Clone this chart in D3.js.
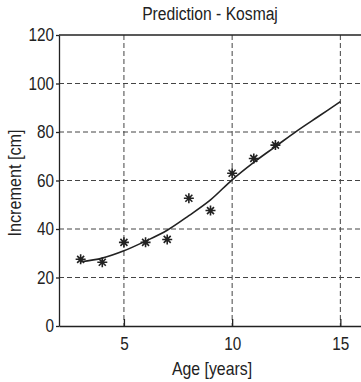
<!DOCTYPE html>
<html>
<head>
<meta charset="utf-8">
<script src="https://cdn.jsdelivr.net/npm/d3@7"></script>
<style>
  body { margin: 0; background: #fff; }
  text { font-family: "Liberation Sans", Arial, sans-serif; fill: #222; }
</style>
</head>
<body>
<div id="chart"></div>
<script>
// measured points (age, increment)
const ages = [3, 4, 5, 6, 7, 8, 9, 10, 11, 12];
const increments = [27.5, 26.3, 34.5, 34.5, 35.7, 52.7, 47.6, 63, 69.1, 74.6];

// fitted prediction curve
const fitAges = [3, 4, 5, 6, 7, 8, 9, 10, 11, 12, 13, 14, 15];
const fitValues = [26.5, 28, 31, 35, 39.5, 45.5, 52, 60.3, 67.5, 74, 80.5, 86.5, 92.5];

const xTicks = [5, 10, 15];
const yTicks = [0, 20, 40, 60, 80, 100, 120];

const W = 361, H = 382;
const margin = { top: 35, right: -1, bottom: 56, left: 59 };
const width = W - margin.left - margin.right;
const height = H - margin.top - margin.bottom;

const svg = d3.select("#chart").append("svg")
    .attr("width", W)
    .attr("height", H);

const g = svg.append("g")
    .attr("transform", "translate(" + margin.left + "," + margin.top + ")");

const x = d3.scaleLinear().domain([2, 16]).range([0, width]);
const y = d3.scaleLinear().domain([0, 120]).range([height, 0]);

// grid
g.selectAll(".vgrid").data(xTicks).enter().append("line")
    .attr("x1", d => x(d)).attr("x2", d => x(d))
    .attr("y1", 0).attr("y2", height)
    .attr("stroke", "#444").attr("stroke-width", 1)
    .attr("stroke-dasharray", "5,3");

g.selectAll(".hgrid").data(yTicks.filter(d => d > 0 && d < 120)).enter().append("line")
    .attr("x1", 0).attr("x2", width)
    .attr("y1", d => y(d)).attr("y2", d => y(d))
    .attr("stroke", "#444").attr("stroke-width", 1)
    .attr("stroke-dasharray", "5,3");

// axes
const xAxis = d3.axisBottom(x).tickValues(xTicks).tickSizeInner(-7).tickSizeOuter(0).tickPadding(11);
const yAxis = d3.axisLeft(y).tickValues(yTicks).tickSizeInner(3).tickSizeOuter(0).tickPadding(3);

const xg = g.append("g").attr("transform", "translate(0," + height + ")").call(xAxis);
const yg = g.append("g").call(yAxis);
[xg, yg].forEach(a => {
    a.select(".domain").attr("stroke", "#222").attr("stroke-width", 1.3);
    a.selectAll(".tick line").attr("stroke", "#222").attr("stroke-width", 1.3);
    // condensed look of the original font
    a.selectAll("text").style("font-size", "18px").attr("fill", "#222")
        .attr("transform", "scale(0.85,1)");
});

// top border
g.append("line")
    .attr("x1", 0).attr("x2", width)
    .attr("y1", 0).attr("y2", 0)
    .attr("stroke", "#222").attr("stroke-width", 1.3);

// fitted curve
const line = d3.line()
    .x((d, i) => x(fitAges[i]))
    .y(d => y(d))
    .curve(d3.curveCatmullRom);

g.append("path")
    .datum(fitValues)
    .attr("d", line)
    .attr("fill", "none")
    .attr("stroke", "#222")
    .attr("stroke-width", 1.6);

// star markers
const r = 5;
const starPath = `M${-r},0L${r},0M0,${-r}L0,${r}M${-r*0.7},${-r*0.7}L${r*0.7},${r*0.7}M${-r*0.7},${r*0.7}L${r*0.7},${-r*0.7}`;
g.selectAll(".star").data(increments).enter().append("path")
    .attr("transform", (d, i) => "translate(" + x(ages[i]) + "," + y(d) + ")")
    .attr("d", starPath)
    .attr("stroke", "#222")
    .attr("stroke-width", 1.6)
    .attr("fill", "none");

// labels
svg.append("text")
    .attr("transform", "translate(210,20) scale(0.87,1)")
    .attr("text-anchor", "middle")
    .style("font-size", "18px")
    .text("Prediction - Kosmaj");

svg.append("text")
    .attr("transform", "translate(212,375) scale(0.88,1)")
    .attr("text-anchor", "middle")
    .style("font-size", "18px")
    .text("Age [years]");

svg.append("text")
    .attr("transform", "translate(21,183) rotate(-90) scale(0.9,1)")
    .attr("text-anchor", "middle")
    .style("font-size", "18px")
    .text("Increment [cm]");
</script>
</body>
</html>
